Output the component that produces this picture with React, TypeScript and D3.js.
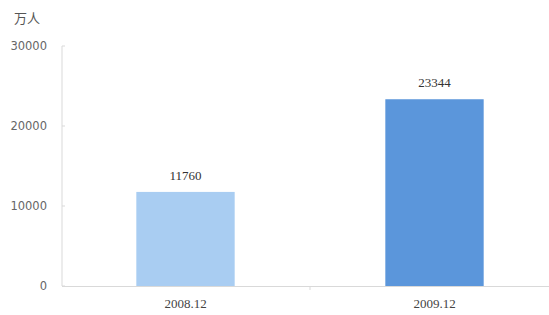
import React from "react";
import * as d3 from "d3";

const categories = ["2008.12", "2009.12"];
const values = [11760, 23344];
const yTicks = [0, 10000, 20000, 30000];
const barColors = ["#a9cdf2", "#5b96db"];
const unitLabel = "万人";

export default function App() {
  const W = 549, H = 315;
  const x = d3.scaleBand<string>().domain(categories).range([61, 559]).paddingInner(0.605).paddingOuter(0.3025);
  const y = d3.scaleLinear().domain([0, 30000]).range([286, 46]);
  return (
    <svg width={W} height={H} style={{ position: "absolute", left: 0, top: 0, background: "#fff" }}>
      <text x={14} y={23} fontFamily="'Noto Sans CJK SC'" fontSize={13} fill="#555">{unitLabel}</text>
      <line x1={62} x2={62} y1={y(30000)} y2={y(0)} stroke="#d9d9d9" strokeWidth={1} />
      <line x1={62} x2={549} y1={y(0) + 0.5} y2={y(0) + 0.5} stroke="#d9d9d9" strokeWidth={1} />
      {yTicks.map((t) => (
        <g key={t}>
          <line x1={62} x2={65} y1={y(t)} y2={y(t)} stroke="#d9d9d9" />
          <text x={47} y={y(t)} dy="0.35em" textAnchor="end" fontFamily="'DejaVu Sans'" fontSize={11.5} fill="#666">{t}</text>
        </g>
      ))}
      <line x1={310} x2={310} y1={y(0)} y2={y(0) + 4} stroke="#d9d9d9" />
      {categories.map((c, i) => (
        <g key={c}>
          <rect x={x(c)} y={y(values[i])} width={x.bandwidth()} height={y(0) - y(values[i])} fill={barColors[i]} />
          <text x={(x(c) as number) + x.bandwidth() / 2} y={y(values[i]) - 12} textAnchor="middle" fontFamily="'Liberation Serif'" fontSize={13} fill="#333">{values[i]}</text>
          <text x={(x(c) as number) + x.bandwidth() / 2} y={308} textAnchor="middle" fontFamily="'Liberation Serif'" fontSize={13} fill="#444">{c}</text>
        </g>
      ))}
    </svg>
  );
}
